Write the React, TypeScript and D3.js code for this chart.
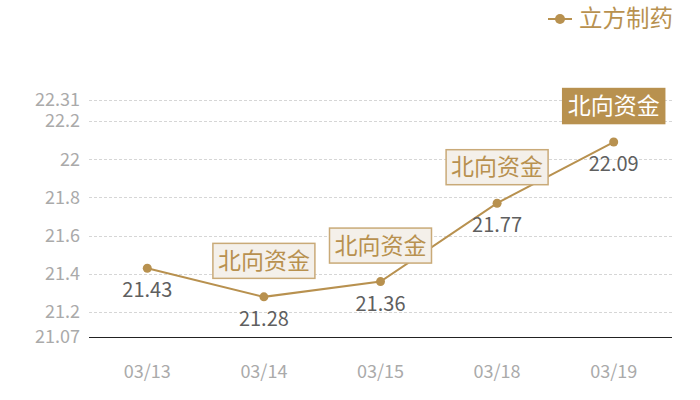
import React from "react";
import * as d3 from "d3";

const categories = ["03/13", "03/14", "03/15", "03/18", "03/19"];
const values = [21.43, 21.28, 21.36, 21.77, 22.09];
const annotations = ["", "北向资金", "北向资金", "北向资金", "北向资金"];
const yTicks = [21.07, 21.2, 21.4, 21.6, 21.8, 22, 22.2, 22.31];
const seriesName = "立方制药";

const W = 700, H = 400;
const M = { left: 89, right: 28, top: 100, bottom: 63 };
const GOLD = "#b8914f";
const FONT = "'Noto Sans CJK SC', 'Noto Sans', sans-serif";

export default function App() {
  const x = d3.scaleBand().domain(categories).range([M.left, W - M.right]);
  const y = d3.scaleLinear().domain([21.07, 22.31]).range([H - M.bottom, M.top]);
  const cx = (c: string) => (x(c) as number) + x.bandwidth() / 2;
  const line = d3.line<number>().x((_, i) => cx(categories[i])).y((v) => y(v));
  const axisY = Math.round(y(21.07)) + 0.5;
  return (
    <svg width={W} height={H} style={{ position: "absolute", left: 0, top: 0, fontFamily: FONT }}>
      <rect width={W} height={H} fill="#fff" />
      {yTicks.map((t, i) => (
        <g key={t}>
          {i > 0 && (
            <line x1={M.left} x2={W - M.right} y1={Math.round(y(t)) + 0.5} y2={Math.round(y(t)) + 0.5} stroke="#d6d6d6" strokeDasharray="3,2" />
          )}
          <text x={80} y={y(t)} dy="0.35em" textAnchor="end" fontSize={18} fill="#aaa">{t}</text>
        </g>
      ))}
      <line x1={M.left} x2={W - M.right} y1={axisY} y2={axisY} stroke="#222" strokeWidth={1} />
      {categories.map((c) => (
        <text key={c} x={cx(c)} y={372} dy="0.35em" textAnchor="middle" fontSize={18} fill="#aaa">{c}</text>
      ))}
      <path d={line(values) || ""} fill="none" stroke={GOLD} strokeWidth={2} />
      {values.map((v, i) => (
        <g key={i}>
          <circle cx={cx(categories[i])} cy={y(v)} r={4.5} fill={GOLD} />
          <text x={cx(categories[i])} y={y(v) + 22} dy="0.35em" textAnchor="middle" fontSize={20} fill="#5f5f5f">{v.toFixed(2)}</text>
        </g>
      ))}
      {values.map((v, i) => {
        if (!annotations[i]) return null;
        const last = i === values.length - 1;
        const bx = cx(categories[i]);
        const by = y(v) - 36;
        return (
          <g key={"a" + i}>
            <rect x={bx - 51} y={by - 17.5} width={102} height={35} fill={last ? GOLD : "#f4f0ea"} stroke={last ? GOLD : "#c9aa78"} strokeWidth={1.5} />
            <text x={bx} y={by} dy="0.35em" textAnchor="middle" fontSize={23} fill={last ? "#fff" : GOLD}>{annotations[i]}</text>
          </g>
        );
      })}
      <g>
        <line x1={548} x2={572} y1={19} y2={19} stroke={GOLD} strokeWidth={2} />
        <circle cx={560} cy={19} r={5} fill={GOLD} />
        <text x={579} y={19} dy="0.35em" fontSize={23.5} fill={GOLD}>{seriesName}</text>
      </g>
    </svg>
  );
}
